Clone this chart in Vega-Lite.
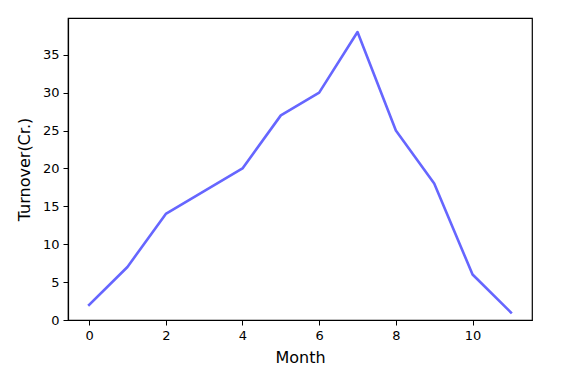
{
  "$schema": "https://vega.github.io/schema/vega-lite/v6.json",
  "autosize": {"type": "none"},
  "padding": {"left": 68, "top": 18, "right": 39, "bottom": 53},
  "width": 464,
  "height": 302,
  "background": "white",
  "config": {
    "font": "DejaVu Sans",
    "view": {"stroke": "black", "strokeWidth": 1.2},
    "axis": {
      "grid": false,
      "domainColor": "black",
      "domainWidth": 1.2,
      "tickColor": "black",
      "tickSize": 5,
      "tickWidth": 1,
      "labelFont": "DejaVu Sans",
      "labelFontSize": 13,
      "labelColor": "black",
      "labelPadding": 4,
      "titleFont": "DejaVu Sans",
      "titleFontSize": 16,
      "titleFontWeight": "normal",
      "titleColor": "black"
    }
  },
  "data": {
    "values": [
      {"Month": 0, "Turnover": 2},
      {"Month": 1, "Turnover": 7},
      {"Month": 2, "Turnover": 14},
      {"Month": 3, "Turnover": 17},
      {"Month": 4, "Turnover": 20},
      {"Month": 5, "Turnover": 27},
      {"Month": 6, "Turnover": 30},
      {"Month": 7, "Turnover": 38},
      {"Month": 8, "Turnover": 25},
      {"Month": 9, "Turnover": 18},
      {"Month": 10, "Turnover": 6},
      {"Month": 11, "Turnover": 1}
    ]
  },
  "mark": {"type": "line", "color": "#6666ff", "strokeWidth": 2.6, "strokeCap": "square", "strokeJoin": "round"},
  "encoding": {
    "x": {
      "field": "Month",
      "type": "quantitative",
      "scale": {"domain": [-0.55, 11.55], "nice": false, "zero": false},
      "axis": {"values": [0, 2, 4, 6, 8, 10], "title": "Month", "titlePadding": 7, "labelFlush": false}
    },
    "y": {
      "field": "Turnover",
      "type": "quantitative",
      "scale": {"domain": [0, 39.85], "nice": false},
      "axis": {"values": [0, 5, 10, 15, 20, 25, 30, 35], "title": "Turnover(Cr.)", "titlePadding": 10, "labelFlush": false}
    }
  }
}
